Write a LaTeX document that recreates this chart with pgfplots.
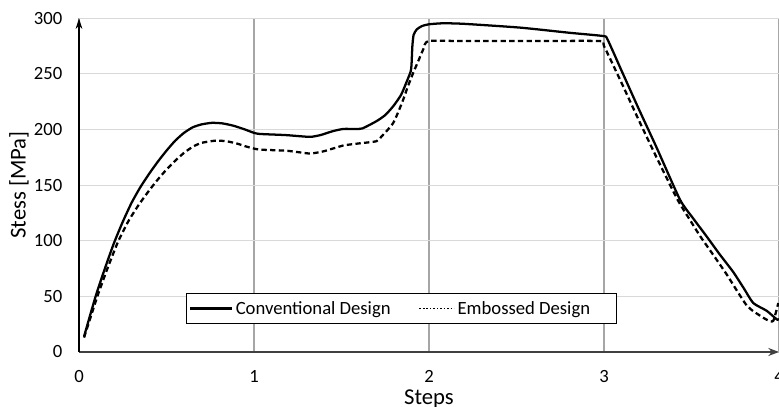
\documentclass[border=0pt]{standalone}
\usepackage{fontspec}
\setmainfont{Carlito}
\usepackage{pgfplots}
\pgfplotsset{compat=1.18}
\usetikzlibrary{arrows.meta}
\definecolor{vgrid}{HTML}{A6A6A6}
\definecolor{hgrid}{HTML}{D9D9D9}
\definecolor{axcol}{HTML}{404040}
\begin{document}
\begin{tikzpicture}
\begin{axis}[
  at={(59.25pt,41.25pt)}, anchor=origin,
  scale only axis,
  width=525pt, height=250.3pt,
  xmin=0, xmax=4, ymin=0, ymax=300,
  axis x line=bottom, axis y line=left,
  x axis line style={axcol, line width=1.4pt, -{Stealth[length=8pt,width=6pt]}},
  y axis line style={black, line width=1.1pt, -{Stealth[length=8pt,width=5pt]}},
  xtick={0,1,2,3,4}, ytick={0,50,100,150,200,250,300},
  major tick length=0pt,
  xmajorgrids, ymajorgrids,
  x grid style={vgrid, line width=0.8pt},
  y grid style={hgrid, line width=0.8pt},
  /pgf/number format/assume math mode=true,
  tick label style={font=\fontsize{14}{16}\selectfont, black},
  yticklabel style={anchor=east, xshift=-9pt},
  xticklabel style={anchor=north, yshift=-10pt},
  xlabel={Steps}, ylabel={Stess [MPa]},
  label style={font=\fontsize{17}{19}\selectfont},
  xlabel style={at={(axis description cs:0.5,-0.1418)}, anchor=center},
  ylabel style={at={(axis description cs:-0.0857,0.5)}, anchor=center},
  legend columns=2,
  legend style={at={(axis description cs:0.4607,0.13)}, anchor=center,
    draw=black, line width=0.8pt, fill=white,
    font=\fontsize{14}{16}\selectfont, inner xsep=2pt, inner ysep=3.5pt,
    /tikz/every even column/.append style={column sep=19pt}},
  legend image code/.code={\draw[#1] (0pt,0pt) -- (31.5pt,0pt);},
  clip=true,
]
\addplot[black, line width=1.7pt, smooth, tension=0.35, line join=round] coordinates {
(0.029,14) (0.095,50) (0.15,76) (0.2,98) (0.25,117) (0.3,134) (0.35,148)
(0.4,160) (0.45,171) (0.5,181) (0.55,190) (0.6,197) (0.65,202) (0.7,204.6)
(0.76,206) (0.82,205.5) (0.88,203.5) (0.94,200.5) (1.0,197) (1.034,196)
(1.18,195) (1.26,194) (1.324,193.4)
(1.38,195) (1.45,198.5) (1.51,200.5) (1.58,200.5) (1.62,201) (1.70,207.5)
(1.75,213) (1.796,221) (1.84,231) (1.87,242) (1.895,252) (1.90,258)
(1.905,275) (1.912,285) (1.93,290) (1.96,293) (2.0,294.6) (2.08,295.5)
(2.2,295) (2.52,291.6) (2.8,287) (2.996,284) (3.02,281) (3.1,253)
(3.2,218) (3.3,184) (3.434,137) (3.51,120) (3.586,104) (3.66,88) (3.738,72)
(3.80,57) (3.853,44) (3.93,37) (3.99,29) (4.0,30)
};
\addlegendentry{Conventional Design}
\addplot[black, line width=1.7pt, dash pattern=on 4pt off 2.5pt, smooth, tension=0.35, line join=round,
  legend image code/.code={\draw[black, line width=1.2pt, dash pattern=on 1.2pt off 1.4pt] (0pt,0pt) -- (26pt,0pt);}] coordinates {
(0.029,13) (0.105,50) (0.16,74) (0.22,98) (0.28,117) (0.34,132) (0.4,145)
(0.45,155) (0.5,164) (0.55,172) (0.6,179) (0.65,184.5) (0.7,188) (0.78,190)
(0.84,189.5) (0.9,187.5) (0.96,184.5) (1.029,182) (1.18,181) (1.26,179.5)
(1.324,178.4) (1.40,180.5)
(1.51,185.6) (1.60,187.5) (1.70,189.5) (1.73,194) (1.76,199) (1.796,206)
(1.825,216) (1.853,227) (1.88,239) (1.91,251) (1.94,262) (1.967,272)
(1.996,279.5) (2.2,279.5) (2.6,279.5) (2.977,279.5) (3.0,275) (3.1,242)
(3.2,208) (3.3,175) (3.42,137) (3.49,119) (3.55,104) (3.63,86) (3.70,70)
(3.76,55) (3.81,43) (3.85,37) (3.93,29) (3.967,28) (3.996,44)
};
\addlegendentry{Embossed Design\hspace*{16pt}}
\end{axis}
\pgfresetboundingbox
\path[use as bounding box] (0pt,0pt) rectangle (584.25pt,305.25pt);
\end{tikzpicture}
\end{document}
